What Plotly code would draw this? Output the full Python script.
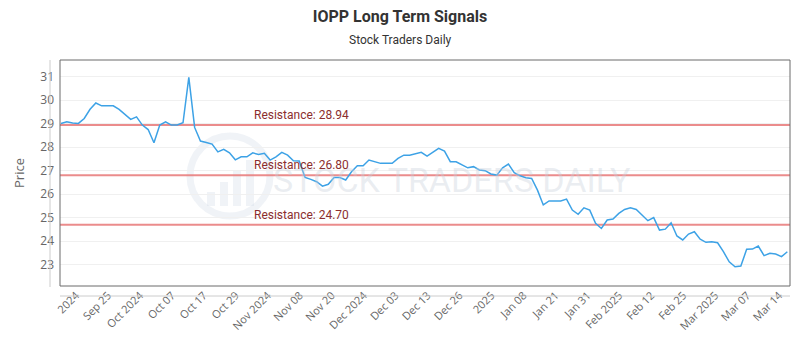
import plotly.graph_objects as go

# ---- data ----
prices = [
    29.01, 29.08, 29.03, 29.01, 29.22, 29.61, 29.88, 29.76, 29.76, 29.76,
    29.61, 29.40, 29.18, 29.29, 28.94, 28.75, 28.19, 28.94, 29.08, 28.94,
    28.94, 29.04, 30.97, 28.84, 28.26, 28.20, 28.13, 27.80, 27.91, 27.76,
    27.46, 27.59,
    27.59, 27.76, 27.69, 27.74, 27.45, 27.59, 27.78, 27.66, 27.42, 27.41,
    26.71, 26.63, 26.53, 26.34, 26.42, 26.71, 26.71, 26.60, 26.95, 27.21,
    27.21, 27.45, 27.38, 27.31, 27.31, 27.31, 27.52, 27.66, 27.66, 27.71,
    27.78, 27.62,
    27.78, 27.95, 27.83, 27.38, 27.38, 27.24, 27.12, 27.17, 27.03, 27.00,
    26.86, 26.81, 27.12, 27.28, 26.91, 26.78, 26.70, 26.67, 26.17, 25.54,
    25.71, 25.71, 25.71, 25.79, 25.32, 25.14, 25.42, 25.32, 24.76, 24.54,
    24.90, 24.94,
    25.18, 25.35, 25.42, 25.35, 25.11, 24.87, 25.00, 24.47, 24.51, 24.78,
    24.22, 24.05, 24.30, 24.40, 24.08, 23.95, 23.97, 23.93, 23.55, 23.12,
    22.91, 22.94, 23.65, 23.66, 23.79, 23.38, 23.48, 23.45, 23.34, 23.55,
]
tick_labels = [
    "2024", "Sep 25", "Oct 2024", "Oct 07", "Oct 17", "Oct 29", "Nov 2024",
    "Nov 08", "Nov 20", "Dec 2024", "Dec 03", "Dec 13", "Dec 26", "2025",
    "Jan 08", "Jan 21", "Jan 31", "Feb 2025", "Feb 12", "Feb 25", "Mar 2025",
    "Mar 07", "Mar 14",
]
resistance_levels = [28.94, 26.80, 24.70]
y_ticks = [23, 24, 25, 26, 27, 28, 29, 30, 31]

x_idx = list(range(len(prices)))
tick_start, tick_step = 2.6, 5.5
tickvals = [tick_start + tick_step * i for i in range(len(tick_labels))]

W, H = 800, 350
L, R, T, B = 60, 10, 60, 64
pw, ph = W - L - R, H - T - B


def px_x(px):
    return (px - L) / pw


def px_y(py):
    return (H - B - py) / ph


fig = go.Figure()
fig.add_trace(go.Scatter(
    x=x_idx, y=prices, mode="lines",
    line=dict(color="#3da2e6", width=1.5),
    hoverinfo="skip", showlegend=False,
))

shapes = []
# watermark logo
wm = "rgba(205,215,228,0.30)"
shapes.append(dict(type="circle", xref="paper", yref="paper",
                   x0=px_x(190), x1=px_x(270), y0=px_y(216), y1=px_y(136),
                   line=dict(color=wm, width=7), layer="below"))
for bx, btop in [(207, 192), (220, 182), (233, 170), (246, 160)]:
    shapes.append(dict(type="rect", xref="paper", yref="paper",
                       x0=px_x(bx), x1=px_x(bx + 8), y0=px_y(206), y1=px_y(btop),
                       fillcolor=wm, line=dict(width=0), layer="below"))
# resistance lines
for lv in resistance_levels:
    shapes.append(dict(type="line", xref="paper", yref="y", x0=0, x1=1, y0=lv, y1=lv,
                       line=dict(color="rgba(232,120,120,0.85)", width=2), layer="below"))
# plot border
shapes.append(dict(type="rect", xref="paper", yref="paper", x0=0, x1=1, y0=0, y1=1,
                   line=dict(color="#6b6b6b", width=1), layer="above"))
# offset axis lines
shapes.append(dict(type="line", xref="paper", yref="paper",
                   x0=px_x(50), x1=px_x(50), y0=px_y(287), y1=1,
                   line=dict(color="#cccccc", width=1)))
shapes.append(dict(type="line", xref="paper", yref="paper",
                   x0=0, x1=1, y0=px_y(296), y1=px_y(296),
                   line=dict(color="#cccccc", width=1)))

annotations = []
annotations.append(dict(
    text="STOCK TRADERS DAILY", xref="paper", yref="paper",
    x=px_x(452), y=px_y(180), xanchor="center", yanchor="middle",
    showarrow=False,
    font=dict(family="Roboto, sans-serif", size=34,
              color="rgba(200,207,218,0.38)"),
))
for lv in resistance_levels:
    annotations.append(dict(
        text=f"Resistance: {lv:.2f}", xref="paper", yref="y",
        x=px_x(252), y=lv, xanchor="left", yanchor="bottom", yshift=1,
        showarrow=False,
        font=dict(family="Roboto, Open Sans, sans-serif", size=12, color="#8b2e2e"),
    ))
annotations.append(dict(
    text="Stock Traders Daily", xref="paper", yref="paper",
    x=0.5 * (W) / pw - L / pw, y=px_y(40), xanchor="center", yanchor="middle",
    showarrow=False,
    font=dict(family="Roboto, sans-serif", size=12, color="#333333"),
))

fig.update_layout(
    width=W, height=H,
    margin=dict(l=L, r=R, t=T, b=B),
    paper_bgcolor="white", plot_bgcolor="white",
    title=dict(text="<b>IOPP Long Term Signals</b>", x=0.5, xanchor="center",
               y=1 - 16 / H, yanchor="middle",
               font=dict(family="Roboto, sans-serif", size=16, color="#333333")),
    xaxis=dict(range=[-0.17, 125.46], tickmode="array", tickvals=tickvals,
               ticktext=tick_labels, tickangle=-45, showgrid=False, zeroline=False,
               showline=False, ticks="", ticklen=0,
               tickfont=dict(family="Open Sans, sans-serif", size=11, color="#666666")),
    yaxis=dict(range=[22.09, 31.71], tickmode="array", tickvals=y_ticks,
               showgrid=True, gridcolor="#f0f0f0", zeroline=False, showline=False,
               ticks="", ticklabelstandoff=5,
               tickfont=dict(family="Open Sans, sans-serif", size=12, color="#666666"),
               title=dict(text="Price", standoff=12,
                          font=dict(family="Open Sans, sans-serif", size=13, color="#666666"))),
    shapes=shapes,
    annotations=annotations,
)

fig.write_html("out.html")
